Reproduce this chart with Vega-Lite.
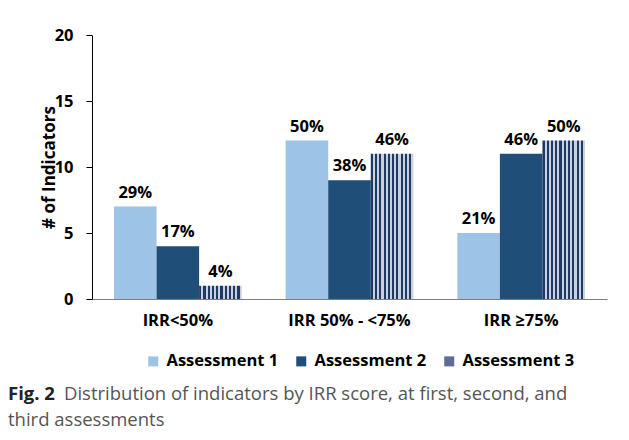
{
  "$schema": "https://vega.github.io/schema/vega-lite/v6.json",
  "width": 515,
  "height": 264,
  "autosize": {"type": "none"},
  "padding": {"left": 92, "top": 35, "right": 22, "bottom": 141},
  "background": "white",
  "config": {
    "view": {"stroke": null},
    "font": "Open Sans"
  },
  "title": {
    "text": "Fig. 2",
    "subtitle": ["\u2800\u2800\u2800\u2800Distribution of indicators by IRR score, at first, second, and", "third assessments"],
    "orient": "bottom",
    "anchor": "start",
    "frame": "group",
    "font": "Open Sans",
    "fontSize": 18.5,
    "fontWeight": "bold",
    "color": "#222222",
    "subtitleFont": "Open Sans",
    "subtitleFontSize": 18.5,
    "subtitleColor": "#555555",
    "subtitleFontWeight": "normal",
    "subtitlePadding": -19,
    "subtitleLineHeight": 26,
    "dx": -84,
    "offset": 15
  },
  "data": {
    "values": [
      {"g": "IRR<50%", "a": "Assessment 1", "v": 7, "p": "29%"},
      {"g": "IRR<50%", "a": "Assessment 2", "v": 4, "p": "17%"},
      {"g": "IRR<50%", "a": "Assessment 3", "v": 1, "p": "4%"},
      {"g": "IRR 50% - <75%", "a": "Assessment 1", "v": 12, "p": "50%"},
      {"g": "IRR 50% - <75%", "a": "Assessment 2", "v": 9, "p": "38%"},
      {"g": "IRR 50% - <75%", "a": "Assessment 3", "v": 11, "p": "46%"},
      {"g": "IRR ≥75%", "a": "Assessment 1", "v": 5, "p": "21%"},
      {"g": "IRR ≥75%", "a": "Assessment 2", "v": 11, "p": "46%"},
      {"g": "IRR ≥75%", "a": "Assessment 3", "v": 12, "p": "50%"}
    ]
  },
  "encoding": {
    "x": {
      "field": "g", "type": "nominal", "sort": null,
      "scale": {"paddingInner": 0.256, "paddingOuter": 0.128},
      "axis": {
        "title": null, "labelAngle": 0, "ticks": false, "domainColor": "#7f7f7f",
        "labelFont": "Open Sans", "labelFontSize": 16.5, "labelFontWeight": "bold", "labelColor": "#000000",
        "labelPadding": 13
      }
    },
    "xOffset": {"field": "a", "type": "nominal", "sort": null},
    "y": {
      "field": "v", "type": "quantitative",
      "scale": {"domain": [0, 20]},
      "axis": {
        "title": "# of Indicators", "values": [0, 5, 10, 15, 20], "grid": false,
        "domainColor": "#000000", "tickColor": "#000000", "tickSize": 6,
        "labelFont": "Open Sans", "labelFontSize": 16.5, "labelFontWeight": "bold", "labelColor": "#000000",
        "labelPadding": 13, "titleFont": "Open Sans", "titleFontSize": 17, "titleFontWeight": "bold",
        "titleColor": "#000000", "titlePadding": -4
      }
    }
  },
  "layer": [
    {
      "mark": {"type": "bar"},
      "encoding": {
        "color": {
          "field": "a", "type": "nominal",
          "scale": {"domain": ["Assessment 1", "Assessment 2", "Assessment 3"], "range": ["#9dc3e6", "#1f4e79", "#5c6d96"]},
          "condition": {
            "test": "datum.a === 'Assessment 3'",
            "value": {
              "gradient": "linear", "x1": 0, "y1": 0, "x2": 1, "y2": 0,
              "stops": [
                {"offset": 0, "color": "#1f3864"}, {"offset": 0.05, "color": "#1f3864"},
                {"offset": 0.05, "color": "#c9d0e0"}, {"offset": 0.1, "color": "#c9d0e0"},
                {"offset": 0.1, "color": "#1f3864"}, {"offset": 0.15, "color": "#1f3864"},
                {"offset": 0.15, "color": "#c9d0e0"}, {"offset": 0.2, "color": "#c9d0e0"},
                {"offset": 0.2, "color": "#1f3864"}, {"offset": 0.25, "color": "#1f3864"},
                {"offset": 0.25, "color": "#c9d0e0"}, {"offset": 0.3, "color": "#c9d0e0"},
                {"offset": 0.3, "color": "#1f3864"}, {"offset": 0.35, "color": "#1f3864"},
                {"offset": 0.35, "color": "#c9d0e0"}, {"offset": 0.4, "color": "#c9d0e0"},
                {"offset": 0.4, "color": "#1f3864"}, {"offset": 0.45, "color": "#1f3864"},
                {"offset": 0.45, "color": "#c9d0e0"}, {"offset": 0.5, "color": "#c9d0e0"},
                {"offset": 0.5, "color": "#1f3864"}, {"offset": 0.55, "color": "#1f3864"},
                {"offset": 0.55, "color": "#c9d0e0"}, {"offset": 0.6, "color": "#c9d0e0"},
                {"offset": 0.6, "color": "#1f3864"}, {"offset": 0.65, "color": "#1f3864"},
                {"offset": 0.65, "color": "#c9d0e0"}, {"offset": 0.7, "color": "#c9d0e0"},
                {"offset": 0.7, "color": "#1f3864"}, {"offset": 0.75, "color": "#1f3864"},
                {"offset": 0.75, "color": "#c9d0e0"}, {"offset": 0.8, "color": "#c9d0e0"},
                {"offset": 0.8, "color": "#1f3864"}, {"offset": 0.85, "color": "#1f3864"},
                {"offset": 0.85, "color": "#c9d0e0"}, {"offset": 0.9, "color": "#c9d0e0"},
                {"offset": 0.9, "color": "#1f3864"}, {"offset": 0.95, "color": "#1f3864"},
                {"offset": 0.95, "color": "#c9d0e0"}, {"offset": 1, "color": "#c9d0e0"}
              ]
            }
          },
          "legend": {
            "title": null, "orient": "none", "direction": "horizontal",
            "legendX": 53, "legendY": 318,
            "symbolType": "square", "symbolSize": 100, "symbolStrokeWidth": 0,
            "labelFont": "Open Sans", "labelFontSize": 16.5, "labelFontWeight": "bold", "labelColor": "#000000",
            "labelOffset": 5, "columnPadding": 14
          }
        }
      }
    },
    {
      "mark": {"type": "text", "baseline": "bottom", "dy": -6, "font": "Open Sans", "fontSize": 16.5, "fontWeight": "bold", "color": "#000000"},
      "encoding": {"text": {"field": "p"}}
    }
  ]
}
